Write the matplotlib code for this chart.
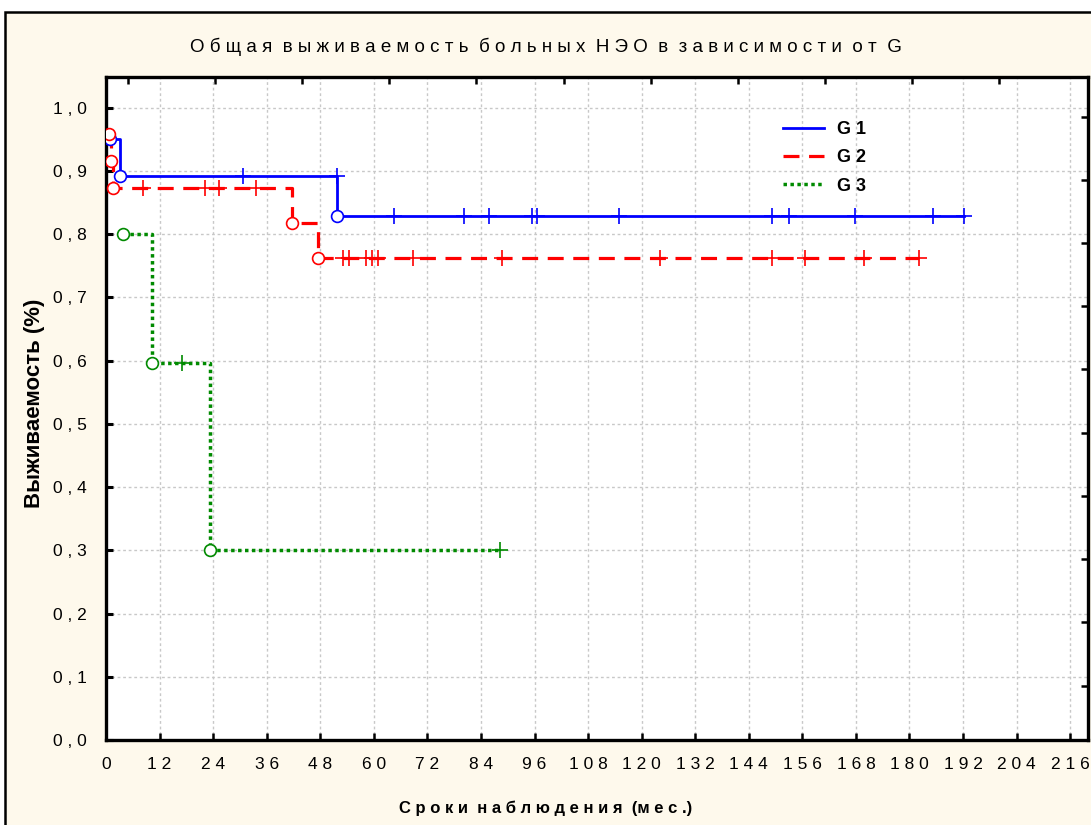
import numpy as np
import matplotlib
matplotlib.use("Agg")
import matplotlib.pyplot as plt
from matplotlib.lines import Line2D
from matplotlib.patches import Rectangle

plt.rcParams['font.family'] = ['Liberation Sans Narrow', 'Liberation Sans', 'DejaVu Sans']

# data (months, survival share)
g1_event_t = [0.8, 3.1, 51.7]
g1_event_s = [0.950, 0.892, 0.829]
g1_cens_t = [30.6, 51.7, 64.5, 80.3, 85.8, 95.4, 96.5, 115.0, 149.3, 153.0,
             167.9, 185.2, 192.3]

g2_event_t = [0.7, 1.1, 1.5, 41.6, 47.6]
g2_event_s = [0.958, 0.916, 0.873, 0.818, 0.762]
g2_cens_t = [8.4, 22.2, 25.4, 33.7, 53.0, 54.4, 58.2, 59.5, 61.0, 68.8, 88.8,
             124.1, 149.3, 156.7, 169.8, 182.1]

g3_event_t = [3.9, 10.4, 23.3]
g3_event_s = [0.80, 0.597, 0.30]
g3_cens_t = [17.0, 88.3]

group_names = ['G 1', 'G 2', 'G 3']
x_ticks = list(range(0, 217, 12))
y_ticks = [i / 10 for i in range(11)]

title = 'О б щ а я  в ы ж и в а е м о с т ь  б о л ь н ы х  Н Э О  в  з а в и с и м о с т и  о т  G'
xlabel = 'С р о к и  н а б л ю д е н и я  (м е с .)'
ylabel = 'Выживаемость (%)'


def surv_before(t, et, es):
    # survival level just before time t (censor marks sit on this level)
    s = es[0]
    for a, b in zip(et, es):
        if a < t:
            s = b
    return s


fig = plt.figure(figsize=(10.91, 8.25), dpi=100)
fig.patch.set_facecolor('white')
fig.patches.append(Rectangle((5 / 1091, -0.1), 1.2, 1 - 12 / 825 + 0.1,
                             transform=fig.transFigure, facecolor='#fef9ec',
                             edgecolor='black', linewidth=1.8, zorder=-5))

ax = fig.add_axes([106 / 1091, 1 - 740 / 825, 982 / 1091, 663 / 825])
ax.set_facecolor('white')

styles = [dict(color='#0000ff', ls='-', lw=2.0),
          dict(color='#ff0000', ls=(0, (5, 3)), lw=2.3),
          dict(color='#008a00', ls=(0, (1.0, 1.0)), lw=2.5)]
groups = [(g1_event_t, g1_event_s, g1_cens_t),
          (g2_event_t, g2_event_s, g2_cens_t),
          (g3_event_t, g3_event_s, g3_cens_t)]

for (et, es, ct), st in zip(groups, styles):
    end_t = max(ct)
    xs = list(et) + [end_t]
    ys = list(es) + [es[-1]]
    ax.plot(xs, ys, drawstyle='steps-post', color=st['color'], ls=st['ls'],
            lw=st['lw'], zorder=3)
    ax.plot(et, es, 'o', ms=8.5, mfc='white', mec=st['color'], mew=1.2, zorder=4)
    cs = [surv_before(t, et, es) for t in ct]
    ax.plot(ct, cs, '+', ms=11, color=st['color'], mew=1.2, zorder=4)

ax.set_xlim(0, 220)
ax.set_ylim(0, 1.0486)
ax.set_xticks(x_ticks)
ax.set_xticklabels([' '.join(str(v)) for v in x_ticks])
ax.set_yticks(y_ticks)
ax.set_yticklabels([' , '.join(f'{v:.1f}'.split('.')) for v in y_ticks])
ax.tick_params(axis='x', direction='in', length=5, width=1.8, labelsize=12.5, pad=12)
ax.tick_params(axis='y', direction='in', length=5, width=2.2, labelsize=12.5, pad=14)
ax.grid(True, color='#c8c8c8', ls=(0, (2, 2)), lw=1.0)
ax.set_axisbelow(True)
for sp in ax.spines.values():
    sp.set_linewidth(2.4)

# extra ticks on top / right as in the original frame
top = ax.secondary_xaxis('top')
top.set_xticks(np.linspace(5, 200, 11))
top.set_xticklabels([])
top.tick_params(direction='in', length=5, width=1.8)
right = ax.secondary_yaxis('right')
right.set_yticks([0.986 - 0.1 * i for i in range(10)])
right.set_yticklabels([])
right.tick_params(direction='in', length=5, width=1.8)

fig.text(0.5, 1 - 47 / 825, title, ha='center', va='center', fontsize=13.5)
fig.text(0.5, 1 - 808 / 825, xlabel, ha='center', va='center', fontsize=12,
         fontweight='bold')
fig.text(35 / 1091, 1 - 403 / 825, ylabel, ha='center', va='center', rotation=90,
         fontsize=16, fontweight='bold', family=['Liberation Sans', 'DejaVu Sans'])

handles = [Line2D([], [], color=st['color'], ls=st['ls'], lw=st['lw']) for st in styles]
ax.legend(handles, group_names, loc='upper left', bbox_to_anchor=(0.68, 0.947),
          frameon=False, borderpad=0, handlelength=2.3, handletextpad=0.7,
          labelspacing=0.62, prop={'weight': 'bold', 'size': 13})

fig.savefig('out.png', dpi=100, facecolor=fig.get_facecolor())
